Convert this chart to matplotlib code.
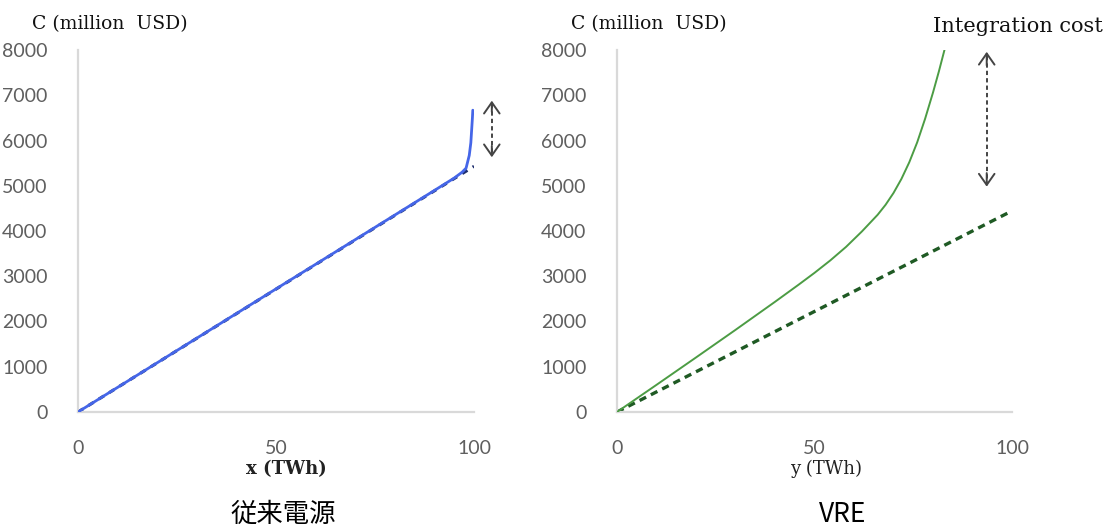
import matplotlib
matplotlib.use("Agg")
import matplotlib.pyplot as plt

# ---- data -------------------------------------------------------------
# Conventional generation: cost curve and its linear reference
conv_x = [0, 10, 20, 30, 40, 50, 60, 70, 80, 90, 95, 97, 98, 98.8, 99.2, 99.4, 99.6, 99.7]
conv_c = [0, 544, 1088, 1632, 2176, 2720, 3264, 3808, 4352, 4896, 5170, 5300, 5390, 5670, 5950, 6225, 6500, 6670]
conv_lin_x = [0, 100]
conv_lin_c = [0, 5430]

# VRE: total cost curve (with integration cost) and linear generation cost
vre_x = [0, 10, 20, 30, 40, 46, 50, 54, 58, 62, 66, 68, 70, 72, 74, 76, 78, 80, 81.5, 82.9]
vre_c = [0, 600, 1205, 1815, 2435, 2815, 3075, 3350, 3650, 3990, 4360, 4580, 4840,
         5150, 5520, 5960, 6480, 7060, 7530, 8000]
vre_lin_x = [0, 99]
vre_lin_c = [0, 4400]

x_ticks = [0, 50, 100]
y_ticks = [0, 1000, 2000, 3000, 4000, 5000, 6000, 7000, 8000]

# ---- figure -----------------------------------------------------------
W, H = 1115, 528
fig = plt.figure(figsize=(W / 100, H / 100), dpi=100)
fig.patch.set_facecolor("white")

def px(x0, y0, x1, y1):
    return [x0 / W, 1 - y1 / H, (x1 - x0) / W, (y1 - y0) / H]

ax1 = fig.add_axes(px(78, 50, 474, 412))
ax2 = fig.add_axes(px(617, 50, 1012, 412))

TICK_FONT = dict(family="Lato", size=14, color="#5f5f5f")
SERIF = "DejaVu Serif"

for ax in (ax1, ax2):
    ax.set_xlim(0, 100)
    ax.set_ylim(0, 8000)
    ax.set_xticks(x_ticks)
    ax.set_yticks(y_ticks)
    for s in ("top", "right"):
        ax.spines[s].set_visible(False)
    for s in ("left", "bottom"):
        ax.spines[s].set_color("#d9d9d9")
        ax.spines[s].set_linewidth(1.6)
    ax.tick_params(length=0)
    ax.tick_params(axis="x", pad=20)
    ax.tick_params(axis="y", pad=22)
    for lab in ax.get_xticklabels() + ax.get_yticklabels():
        lab.set_fontfamily(TICK_FONT["family"])
        lab.set_fontsize(TICK_FONT["size"])
        lab.set_color(TICK_FONT["color"])
    ax.set_facecolor("none")

# Conventional panel
ax1.plot(conv_lin_x, conv_lin_c, color="#1f2f6e", lw=2.2, ls=(0, (2, 2)), zorder=2)
ax1.plot(conv_x, conv_c, color="#4566e8", lw=2.0, solid_capstyle="round",
         solid_joinstyle="round", zorder=3)

# VRE panel
ax2.plot(vre_lin_x, vre_lin_c, color="#1f5a24", lw=2.4, ls=(0, (2.2, 1.6)), zorder=2)
ax2.plot(vre_x, vre_c, color="#4c9c44", lw=1.4, solid_joinstyle="round", zorder=3)

# Double-headed dashed arrows marking the cost gap
ARROW_COLOR = "#444444"

def gap_arrow(ax, x, y_top, y_bot, head_len):
    ax.plot([x, x], [y_top - head_len * 0.3, y_bot + head_len * 0.3],
            color=ARROW_COLOR, lw=1.4, ls=(0, (2.2, 1.6)), clip_on=False, zorder=4)
    for tip, tail in ((y_top, y_top - head_len), (y_bot, y_bot + head_len)):
        ax.annotate("", xy=(x, tip), xytext=(x, tail),
                    arrowprops=dict(arrowstyle="->,head_length=0.5,head_width=0.35",
                                    color=ARROW_COLOR, lw=1.4,
                                    mutation_scale=16, shrinkA=0, shrinkB=0),
                    annotation_clip=False, zorder=4)

gap_arrow(ax1, 104.5, 6880, 5630, 250)
gap_arrow(ax2, 93.6, 7960, 4980, 300)

# ---- text -------------------------------------------------------------
def ftext(x, y, s, **kw):
    fig.text(x / W, 1 - y / H, s, **kw)

for cx in (110, 649):
    ftext(cx, 24, "C (million  USD)", family=SERIF, size=13.5,
          ha="center", va="center", color="#111111")
ftext(1018, 26, "Integration cost", family=SERIF, size=15, ha="center", va="center", color="#111111")

ftext(286, 469, "x (TWh)", family=SERIF, size=13, weight="bold", ha="center", va="center", color="#222222")
ftext(826, 469, "y (TWh)", family=SERIF, size=13, ha="center", va="center", color="#222222")

ftext(283, 514, "従来電源", family=["Noto Sans CJK JP", "DejaVu Sans"], size=19,
      ha="center", va="center", color="black")
ftext(843, 514, "VRE", family=["Noto Sans CJK JP", "DejaVu Sans"], size=19,
      ha="center", va="center", color="black")

fig.savefig("out.png", dpi=100, facecolor="white")
